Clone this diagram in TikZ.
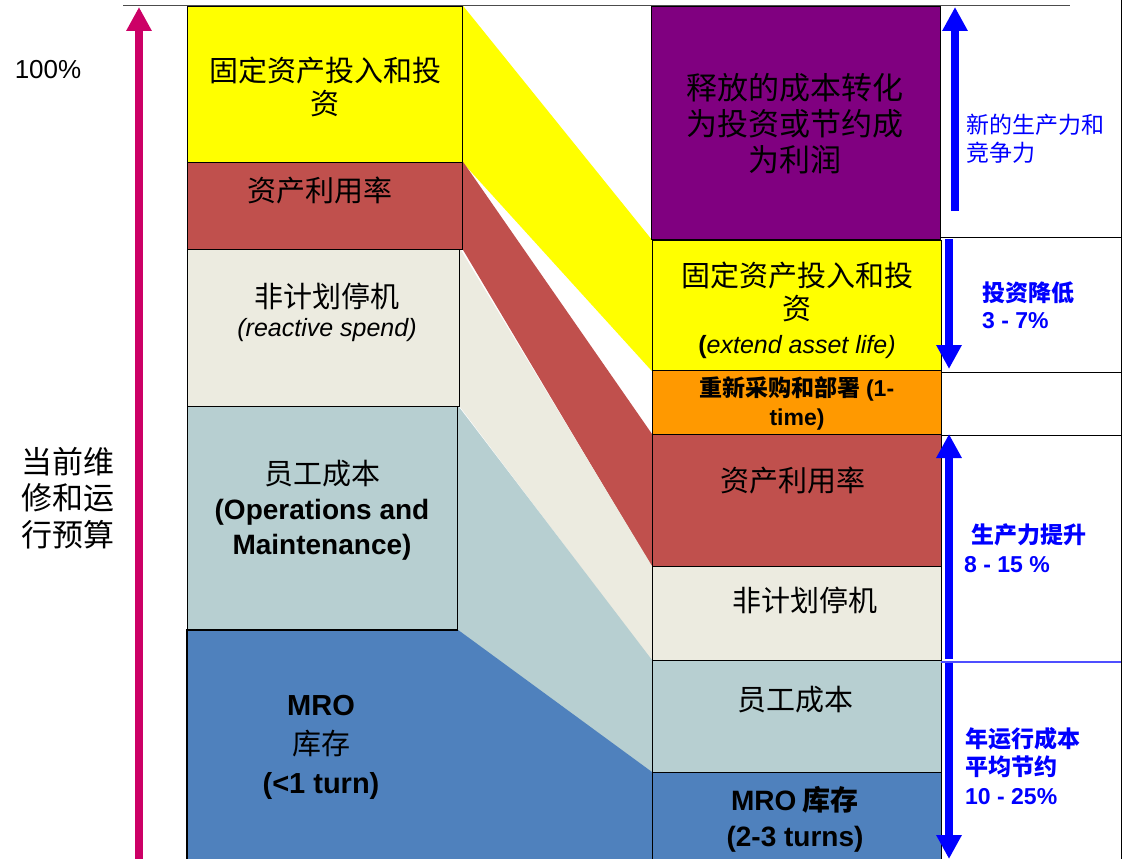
\documentclass[tikz,border=0pt]{standalone}
\usepackage{fontspec}
\setmainfont{Liberation Sans}
\newfontfamily\cjk{Noto Sans CJK SC}
\usetikzlibrary{arrows.meta}
\definecolor{cyel}{HTML}{FFFF00}
\definecolor{cred}{HTML}{C0504D}
\definecolor{cbei}{HTML}{ECEBE0}
\definecolor{cgry}{HTML}{B7CFD1}
\definecolor{cblu}{HTML}{4F81BD}
\definecolor{cpur}{HTML}{800080}
\definecolor{corg}{HTML}{FF9900}
\definecolor{cmag}{HTML}{CC0066}
\definecolor{carr}{HTML}{0000FF}
\definecolor{cbline}{HTML}{4F4FFF}
\pgfdeclarelayer{background}
\pgfsetlayers{background,main}
\begin{document}
\begin{tikzpicture}[x=1pt,y=-1pt,
  box/.style={draw=black, line width=1.2pt, inner sep=0pt, anchor=north west},
  txt/.style={align=center, inner sep=0pt},
  btxt/.style={align=left, inner sep=0pt, anchor=west, text=carr},
  bigarrow/.style={line width=8pt, -{Triangle[width=24pt,length=24pt]}},
  sideline/.style={line width=1pt, draw=black}]
\useasboundingbox (0,0) rectangle (1127,859);

% left column boxes
\node[box, fill=cyel, minimum width=275pt, minimum height=156pt] (ly) at (187,6) {};
\node[box, fill=cred, minimum width=275pt, minimum height=87pt] (lr) at (187,162) {};
\node[box, fill=cbei, minimum width=272pt, minimum height=157pt] (lb) at (187,249) {};
\node[box, fill=cgry, minimum width=270pt, minimum height=224pt] (lg) at (187,406) {};
\node[box, draw=none, fill=cblu, minimum width=270pt, minimum height=229pt] (lm) at (187,630) {};
\draw[line width=1.2pt] (lm.south west) -- (lm.north west) -- (lm.north east);

% right column boxes
\node[box, fill=cpur, minimum width=289pt, minimum height=233pt] (rp) at (651,6) {};
\node[box, fill=cyel, minimum width=289pt, minimum height=130pt] (ry) at (652,240) {};
\node[box, fill=corg, minimum width=289pt, minimum height=64pt] (ro) at (652,370) {};
\node[box, fill=cred, minimum width=289pt, minimum height=132pt] (rr) at (652,434) {};
\node[box, fill=cbei, minimum width=289pt, minimum height=94pt] (rb) at (652,566) {};
\node[box, fill=cgry, minimum width=289pt, minimum height=112pt] (rg) at (652,660) {};
\node[box, fill=cblu, minimum width=289pt, minimum height=90pt] (rm) at (652,772) {};

% flow bands
\begin{pgfonlayer}{background}
\fill[white] (0,0) rectangle (1127,859);
\fill[cyel] (ly.north east) -- (ry.north west) -- (ry.south west) -- (ly.south east) -- cycle;
\fill[cred] (lr.north east) -- (rr.north west) -- (rr.south west) -- (lr.south east) -- cycle;
\fill[cbei] (lb.north east) -- (rb.north west) -- (rb.south west) -- (lb.south east) -- cycle;
\fill[cgry] (lg.north east) -- (rg.north west) -- (rg.south west) -- (lg.south east) -- cycle;
\fill[cblu] (lm.north east) -- (rm.north west) -- (rm.south west) -- (lm.south east) -- cycle;
\end{pgfonlayer}

% frame lines
\draw[line width=1pt, draw=black!70] (123,6) -- (1070,6);
\draw[sideline] (1121,0) -- (1121,859);
\draw[sideline] (941,237) -- (1121,237);
\draw[sideline] (941,372) -- (1121,372);
\draw[sideline] (941,435) -- (1121,435);
\draw[line width=1.2pt, draw=cbline] (941,662) -- (1121,662);

% arrows
\draw[bigarrow, cmag] (139,859) -- (139,7);
\draw[bigarrow, carr] (955,211) -- (955,7);
\draw[bigarrow, carr] (949,239) -- (949,369);
\draw[bigarrow, carr] (949,659) -- (949,434);
\draw[bigarrow, carr] (949,663) -- (949,859);

% left labels
\node[txt, font=\fontsize{26}{30}\selectfont] (t100) at (48,70) {100\%};
\node[txt, font=\cjk\fontsize{31}{36.5}\selectfont] (tbud) at (68,498) {当前维\\修和运\\行预算};

% left column texts
\node[txt, font=\cjk\fontsize{29}{33}\selectfont] (tly) at (325,87) {固定资产投入和投\\资};
\node[txt, font=\cjk\fontsize{29}{33}\selectfont] (tlr) at (320,190) {资产利用率};
\node[txt, font=\cjk\fontsize{29}{29}\selectfont] (tlb) at (327,312) {非计划停机\\{\rmfamily\itshape\fontsize{25}{29}\selectfont (reactive spend)}};
\node[txt, font=\cjk\fontsize{29}{35}\selectfont] (tlg) at (322,510) {员工成本\\{\rmfamily\bfseries\fontsize{28}{35}\selectfont (Operations and}\\{\rmfamily\bfseries\fontsize{28}{35}\selectfont Maintenance)}};
\node[txt, font=\cjk\fontsize{29}{39}\selectfont] (tlm) at (321,747) {{\rmfamily\bfseries MRO}\\库存\\{\rmfamily\bfseries (<1 turn)}};

% right column texts
\node[txt, font=\cjk\fontsize{31}{36}\selectfont] (trp) at (795,124) {释放的成本转化\\为投资或节约成\\为利润};
\node[txt, font=\cjk\fontsize{29}{33.5}\selectfont] (try) at (797,310) {固定资产投入和投\\资\\{\rmfamily\fontsize{25}{30}\selectfont{\bfseries(}\itshape extend asset life)}};
\node[txt, font=\cjk\bfseries\fontsize{23}{29}\selectfont] (tro) at (797,403) {重新采购和部署 {\rmfamily (1-}\\{\rmfamily time)}};
\node[txt, font=\cjk\fontsize{29}{33}\selectfont] (trr) at (793,480) {资产利用率};
\node[txt, font=\cjk\fontsize{29}{33}\selectfont] (trb) at (805,600) {非计划停机};
\node[txt, font=\cjk\fontsize{29}{33}\selectfont] (trg) at (795,700) {员工成本};
\node[txt, font=\cjk\bfseries\fontsize{28}{36}\selectfont] (trm) at (795,819) {{\rmfamily MRO} 库存\\{\rmfamily (2-3 turns)}};

% blue side texts
\node[btxt, font=\cjk\fontsize{23}{28}\selectfont] (bt1) at (966,139) {新的生产力和\\竞争力};
\node[btxt, font=\cjk\bfseries\fontsize{23}{27}\selectfont] (bt2) at (982,305) {投资降低\\{\rmfamily 3 - 7\%}};
\node[btxt, font=\cjk\bfseries\fontsize{23}{29}\selectfont] (bt3) at (964,548) {\hspace*{7pt}生产力提升\\{\rmfamily 8 - 15 \%}};
\node[btxt, font=\cjk\bfseries\fontsize{23}{28.5}\selectfont] (bt4) at (965,766) {年运行成本\\平均节约\\{\rmfamily 10 - 25\%}};
\end{tikzpicture}
\end{document}
